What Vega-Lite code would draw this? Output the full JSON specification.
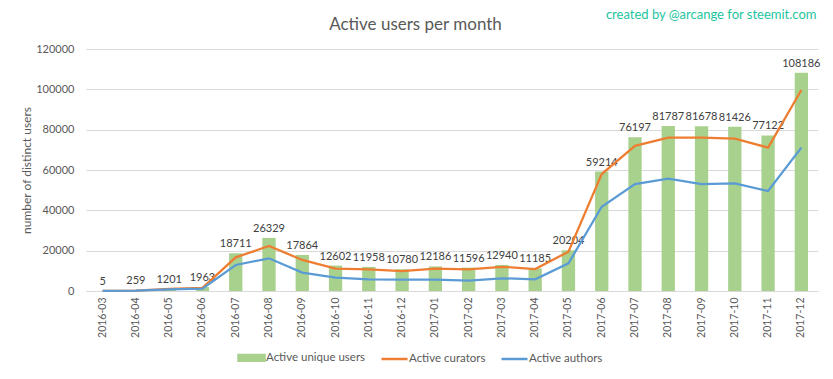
{
  "$schema": "https://vega.github.io/schema/vega-lite/v6.json",
  "autosize": "none",
  "width": 732,
  "height": 242,
  "padding": {"left": 86, "top": 49, "right": 15, "bottom": 88},
  "background": "white",
  "config": {
    "view": {"stroke": null},
    "font": "Lato"
  },
  "data": {
    "values": [
      {"month": "2016-03", "series": "Active unique users", "value": 5},
      {"month": "2016-04", "series": "Active unique users", "value": 259},
      {"month": "2016-05", "series": "Active unique users", "value": 1201},
      {"month": "2016-06", "series": "Active unique users", "value": 1963},
      {"month": "2016-07", "series": "Active unique users", "value": 18711},
      {"month": "2016-08", "series": "Active unique users", "value": 26329},
      {"month": "2016-09", "series": "Active unique users", "value": 17864},
      {"month": "2016-10", "series": "Active unique users", "value": 12602},
      {"month": "2016-11", "series": "Active unique users", "value": 11958},
      {"month": "2016-12", "series": "Active unique users", "value": 10780},
      {"month": "2017-01", "series": "Active unique users", "value": 12186},
      {"month": "2017-02", "series": "Active unique users", "value": 11596},
      {"month": "2017-03", "series": "Active unique users", "value": 12940},
      {"month": "2017-04", "series": "Active unique users", "value": 11185},
      {"month": "2017-05", "series": "Active unique users", "value": 20204},
      {"month": "2017-06", "series": "Active unique users", "value": 59214},
      {"month": "2017-07", "series": "Active unique users", "value": 76197},
      {"month": "2017-08", "series": "Active unique users", "value": 81787},
      {"month": "2017-09", "series": "Active unique users", "value": 81678},
      {"month": "2017-10", "series": "Active unique users", "value": 81426},
      {"month": "2017-11", "series": "Active unique users", "value": 77122},
      {"month": "2017-12", "series": "Active unique users", "value": 108186},
      {"month": "2016-03", "series": "Active curators", "value": 5},
      {"month": "2016-04", "series": "Active curators", "value": 220},
      {"month": "2016-05", "series": "Active curators", "value": 1000},
      {"month": "2016-06", "series": "Active curators", "value": 1600},
      {"month": "2016-07", "series": "Active curators", "value": 16700},
      {"month": "2016-08", "series": "Active curators", "value": 22300},
      {"month": "2016-09", "series": "Active curators", "value": 15400},
      {"month": "2016-10", "series": "Active curators", "value": 11100},
      {"month": "2016-11", "series": "Active curators", "value": 10700},
      {"month": "2016-12", "series": "Active curators", "value": 9900},
      {"month": "2017-01", "series": "Active curators", "value": 11100},
      {"month": "2017-02", "series": "Active curators", "value": 10700},
      {"month": "2017-03", "series": "Active curators", "value": 12000},
      {"month": "2017-04", "series": "Active curators", "value": 10900},
      {"month": "2017-05", "series": "Active curators", "value": 19500},
      {"month": "2017-06", "series": "Active curators", "value": 58000},
      {"month": "2017-07", "series": "Active curators", "value": 72000},
      {"month": "2017-08", "series": "Active curators", "value": 76000},
      {"month": "2017-09", "series": "Active curators", "value": 76000},
      {"month": "2017-10", "series": "Active curators", "value": 75500},
      {"month": "2017-11", "series": "Active curators", "value": 71100},
      {"month": "2017-12", "series": "Active curators", "value": 99700},
      {"month": "2016-03", "series": "Active authors", "value": 3},
      {"month": "2016-04", "series": "Active authors", "value": 150},
      {"month": "2016-05", "series": "Active authors", "value": 750},
      {"month": "2016-06", "series": "Active authors", "value": 1200},
      {"month": "2016-07", "series": "Active authors", "value": 12900},
      {"month": "2016-08", "series": "Active authors", "value": 16200},
      {"month": "2016-09", "series": "Active authors", "value": 9100},
      {"month": "2016-10", "series": "Active authors", "value": 6600},
      {"month": "2016-11", "series": "Active authors", "value": 5800},
      {"month": "2016-12", "series": "Active authors", "value": 5600},
      {"month": "2017-01", "series": "Active authors", "value": 5600},
      {"month": "2017-02", "series": "Active authors", "value": 5100},
      {"month": "2017-03", "series": "Active authors", "value": 6300},
      {"month": "2017-04", "series": "Active authors", "value": 5800},
      {"month": "2017-05", "series": "Active authors", "value": 13700},
      {"month": "2017-06", "series": "Active authors", "value": 41800},
      {"month": "2017-07", "series": "Active authors", "value": 53000},
      {"month": "2017-08", "series": "Active authors", "value": 55700},
      {"month": "2017-09", "series": "Active authors", "value": 53000},
      {"month": "2017-10", "series": "Active authors", "value": 53400},
      {"month": "2017-11", "series": "Active authors", "value": 49600},
      {"month": "2017-12", "series": "Active authors", "value": 71100}
    ]
  },
  "resolve": {"axis": {"x": "independent"}},
  "layer": [
    {
      "transform": [{"filter": "datum.series === 'Active unique users'"}],
      "mark": {"type": "bar", "opacity": 1},
      "encoding": {
        "x": {
          "field": "month", "type": "nominal", "sort": null,
          "scale": {"paddingInner": 0.6, "paddingOuter": 0.3},
          "axis": {
            "title": null, "labelAngle": 270, "labelFont": "Lato",
            "labelFontSize": 10.5, "labelColor": "#595959", "labelPadding": 6,
            "ticks": false, "domain": true, "domainColor": "#D9D9D9", "grid": false
          }
        },
        "y": {
          "field": "value", "type": "quantitative",
          "scale": {"domain": [0, 120000], "nice": false},
          "axis": {
            "title": "number of distinct users", "titleFont": "Lato", "titleFontSize": 12,
            "titleFontWeight": "normal", "titleColor": "#595959", "titlePadding": 2,
            "values": [0, 20000, 40000, 60000, 80000, 100000, 120000],
            "format": "d", "labelFont": "Lato", "labelFontSize": 11,
            "labelColor": "#595959", "labelPadding": 12, "ticks": false, "domain": false,
            "grid": true, "gridColor": "#D9D9D9", "gridWidth": 1
          }
        },
        "color": {
          "field": "series", "type": "nominal",
          "scale": {
            "domain": ["Active unique users", "Active curators", "Active authors"],
            "range": ["#A9D18E", "#ED7D31", "#5B9BD5"]
          },
          "legend": {
            "title": null, "orient": "none", "direction": "horizontal",
            "legendX": 151, "legendY": 294,
            "labelFont": "Lato", "labelFontSize": 11.5, "labelColor": "#595959",
            "symbolSize": 676, "columnPadding": 10, "labelOffset": 0,
            "symbolType": "M-1,-0.22H1V0.22H-1Z",
            "encode": {
              "symbols": {
                "update": {
                  "shape": {"signal": "datum.value === 'Active unique users' ? 'M-1,-0.22H1V0.22H-1Z' : 'M-1,0H1'"},
                  "fill": {"signal": "datum.value === 'Active unique users' ? '#A9D18E' : 'transparent'"},
                  "stroke": {"signal": "datum.value === 'Active unique users' ? 'transparent' : (datum.value === 'Active curators' ? '#ED7D31' : '#5B9BD5')"},
                  "strokeWidth": {"value": 2.5},
                  "opacity": {"value": 1}
                }
              }
            }
          }
        }
      }
    },
    {
      "transform": [{"filter": "datum.series === 'Active unique users'"}],
      "mark": {
        "type": "text", "baseline": "bottom", "dy": -4,
        "font": "Lato", "fontSize": 11, "color": "#404040"
      },
      "encoding": {
        "x": {
          "field": "month", "type": "nominal", "sort": null,
          "axis": {
            "orient": "top", "title": "Active users per month",
            "titleFont": "Lato", "titleFontSize": 17, "titleFontWeight": "normal",
            "titleColor": "#595959", "titleX": 329, "titleY": -25, "titleAlign": "center",
            "titleBaseline": "middle",
            "labels": false, "ticks": false, "domain": false, "grid": false
          }
        },
        "y": {
          "field": "value", "type": "quantitative",
          "scale": {"domain": [0, 120000], "nice": false},
          "axis": {
            "title": "number of distinct users", "titleFont": "Lato", "titleFontSize": 12,
            "titleFontWeight": "normal", "titleColor": "#595959", "titlePadding": 2,
            "values": [0, 20000, 40000, 60000, 80000, 100000, 120000],
            "format": "d", "labelFont": "Lato", "labelFontSize": 11,
            "labelColor": "#595959", "labelPadding": 12, "ticks": false, "domain": false,
            "grid": true, "gridColor": "#D9D9D9", "gridWidth": 1
          }
        },
        "text": {"field": "value", "type": "quantitative", "format": "d"}
      }
    },
    {
      "transform": [{"filter": "datum.series !== 'Active unique users'"}],
      "mark": {"type": "line", "strokeWidth": 2.25},
      "encoding": {
        "x": {
          "field": "month", "type": "nominal", "sort": null,
          "axis": {
            "orient": "top", "title": "created by @arcange for steemit.com",
            "titleFont": "Lato", "titleFontSize": 13, "titleFontWeight": "normal",
            "titleColor": "#1DC49E", "titleX": 730, "titleY": -35, "titleAlign": "right",
            "titleBaseline": "middle",
            "labels": false, "ticks": false, "domain": false, "grid": false
          }
        },
        "y": {
          "field": "value", "type": "quantitative",
          "scale": {"domain": [0, 120000], "nice": false},
          "axis": {
            "title": "number of distinct users", "titleFont": "Lato", "titleFontSize": 12,
            "titleFontWeight": "normal", "titleColor": "#595959", "titlePadding": 2,
            "values": [0, 20000, 40000, 60000, 80000, 100000, 120000],
            "format": "d", "labelFont": "Lato", "labelFontSize": 11,
            "labelColor": "#595959", "labelPadding": 12, "ticks": false, "domain": false,
            "grid": true, "gridColor": "#D9D9D9", "gridWidth": 1
          }
        },
        "color": {
          "field": "series", "type": "nominal",
          "legend": {
            "title": null, "orient": "none", "direction": "horizontal",
            "legendX": 151, "legendY": 294,
            "labelFont": "Lato", "labelFontSize": 11.5, "labelColor": "#595959",
            "symbolSize": 676, "columnPadding": 10, "labelOffset": 0,
            "symbolType": "M-1,-0.22H1V0.22H-1Z",
            "encode": {
              "symbols": {
                "update": {
                  "shape": {"signal": "datum.value === 'Active unique users' ? 'M-1,-0.22H1V0.22H-1Z' : 'M-1,0H1'"},
                  "fill": {"signal": "datum.value === 'Active unique users' ? '#A9D18E' : 'transparent'"},
                  "stroke": {"signal": "datum.value === 'Active unique users' ? 'transparent' : (datum.value === 'Active curators' ? '#ED7D31' : '#5B9BD5')"},
                  "strokeWidth": {"value": 2.5},
                  "opacity": {"value": 1}
                }
              }
            }
          }
        }
      }
    }
  ]
}
